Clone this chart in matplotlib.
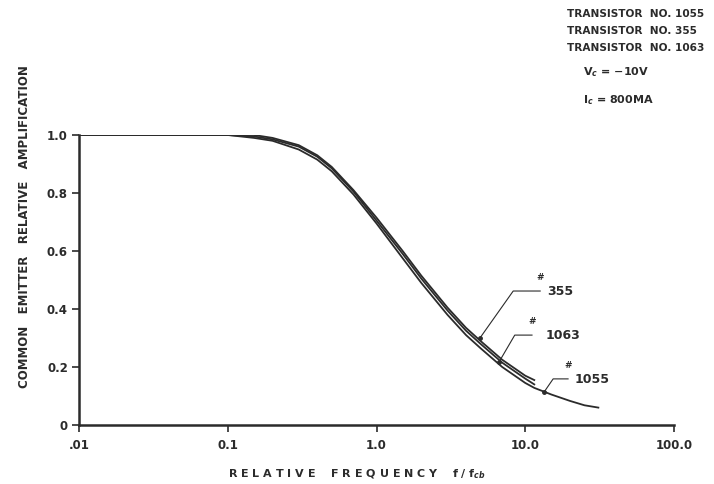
import numpy as np
import matplotlib.pyplot as plt

# -- Data (relative frequency f/fcb vs relative amplification)
freq = [0.01, 0.05, 0.1, 0.15, 0.2, 0.3, 0.4, 0.5, 0.7, 1.0, 1.5, 2.0, 3.0, 4.0, 5.0, 7.0, 10.0, 11.5]
amp_355 = [1.0, 1.0, 1.0, 1.0, 0.99, 0.965, 0.93, 0.89, 0.81, 0.715, 0.60, 0.515, 0.405, 0.335, 0.29, 0.225, 0.17, 0.155]
amp_1063 = [1.0, 1.0, 1.0, 0.995, 0.985, 0.96, 0.925, 0.885, 0.805, 0.705, 0.59, 0.505, 0.395, 0.325, 0.28, 0.215, 0.16, 0.14]
freq_1055 = freq + [15.0, 20.0, 25.0, 31.0]
amp_1055 = [1.0, 1.0, 1.0, 0.99, 0.98, 0.95, 0.915, 0.875, 0.795, 0.695, 0.575, 0.49, 0.38, 0.31, 0.265, 0.20,
            0.145, 0.128, 0.105, 0.083, 0.068, 0.06]

xticks = [0.01, 0.1, 1.0, 10.0, 100.0]
xticklabels = ['.01', '0.1', '1.0', '10.0', '100.0']
yticks = [0, 0.2, 0.4, 0.6, 0.8, 1.0]
yticklabels = ['0', '0.2', '0.4', '0.6', '0.8', '1.0']

# callouts: name, point on curve (f, amp), elbow f, end f, line height, label f
callouts = [
    ('355', 4.96, 0.30, 8.3, 12.6, 0.462, 14.0),
    ('1063', 6.66, 0.217, 8.5, 11.1, 0.31, 13.6),
    ('1055', 13.4, 0.114, 15.4, 19.4, 0.159, 21.6),
]

ink = '#2b2b2b'
plt.rcParams['font.family'] = ['DejaVu Sans']
plt.rcParams['font.weight'] = 'bold'

fig = plt.figure(figsize=(7.14, 4.84), dpi=100)
ax = fig.add_axes([79 / 714, 1 - 425 / 484, (674 - 79) / 714, (425 - 135) / 484])

ax.plot(freq, amp_355, color=ink, lw=1.3)
ax.plot(freq, amp_1063, color=ink, lw=1.3)
ax.plot(freq_1055, amp_1055, color=ink, lw=1.3)

ax.set_xscale('log')
ax.set_xlim(0.01, 100)
ax.set_ylim(0, 1.0)
ax.set_xticks(xticks)
ax.set_xticklabels(xticklabels)
ax.minorticks_off()
ax.set_yticks(yticks)
ax.set_yticklabels(yticklabels)
ax.tick_params(colors=ink, labelsize=8.5, length=5, width=1.2, direction='out', pad=3)
ax.tick_params(axis='x', pad=5)

for s in ['top', 'right']:
    ax.spines[s].set_visible(False)
for s in ['left', 'bottom']:
    ax.spines[s].set_color(ink)
    ax.spines[s].set_linewidth(1.8)

# axis titles placed where the reference has them
fig.text(357 / 714, 1 - 474 / 484, 'R E L A T I V E    F R E Q U E N C Y    f / f$_{cb}$',
         fontsize=8, fontweight='bold', color=ink, ha='center', va='center')
fig.text(25 / 714, 1 - 227 / 484, 'COMMON   EMITTER   RELATIVE   AMPLIFICATION',
         fontsize=8.5, fontweight='bold', color=ink, ha='center', va='center', rotation=90)

# -- Leader lines to each curve
for name, fx, fy, ef, lf, ly, tf in callouts:
    ax.plot([fx, ef, lf], [fy, ly, ly], color=ink, lw=0.8)
    ax.plot(fx, fy, 'o', color=ink, ms=2.5)
    ax.text(lf, ly + 0.03, '#', fontsize=6.5, color=ink, ha='center', va='bottom')
    ax.text(tf, ly - 0.002, name, fontsize=9, color=ink, ha='left', va='center')

# -- Header text
for i, t in enumerate(['TRANSISTOR  NO. 1055', 'TRANSISTOR  NO. 355', 'TRANSISTOR  NO. 1063']):
    fig.text(567 / 714, 1 - (14 + 17 * i) / 484, t, fontsize=7.6, color=ink, ha='left', va='center')
fig.text(583 / 714, 1 - 72 / 484, 'V$_c$ = $-$10V', fontsize=8, color=ink, ha='left', va='center')
fig.text(583 / 714, 1 - 100 / 484, 'I$_c$ = 800MA', fontsize=8, color=ink, ha='left', va='center')

plt.savefig('out.png', dpi=100)
